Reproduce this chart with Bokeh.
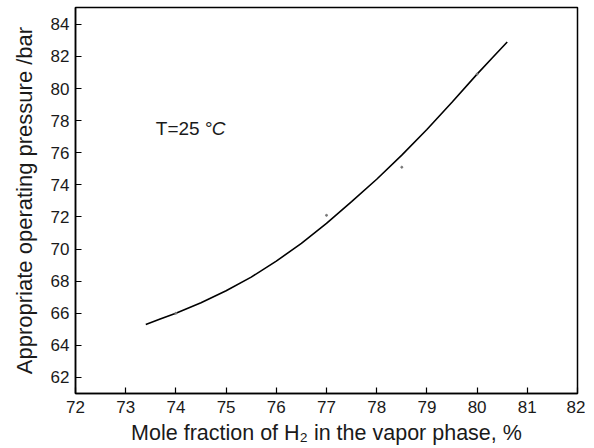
from bokeh.plotting import figure
from bokeh.models import Range1d, FixedTicker, Label
from bokeh.embed import file_html
from bokeh.resources import INLINE

# Data
curve_x = [73.4, 73.7, 74.0, 74.5, 75.0, 75.5, 76.0, 76.5, 77.0, 77.5, 78.0, 78.5, 79.0, 79.5, 80.0, 80.3, 80.6]
curve_y = [65.3, 65.65, 66.0, 66.65, 67.4, 68.25, 69.25, 70.35, 71.6, 72.95, 74.35, 75.85, 77.45, 79.15, 80.9, 81.9, 82.9]
dots_x = [74.0, 77.0, 78.5, 80.0]
dots_y = [66.0, 72.1, 75.1, 80.9]
x_ticks = [72, 73, 74, 75, 76, 77, 78, 79, 80, 81, 82]
y_ticks = [62, 64, 66, 68, 70, 72, 74, 76, 78, 80, 82, 84]

FONT = "Liberation Sans"
TXT = "#1a1a1a"

p = figure(width=585, height=448, output_backend="svg", toolbar_location=None,
           x_range=Range1d(72, 82), y_range=Range1d(61, 85.05))
p.min_border_left = 75
p.min_border_right = 8
p.min_border_top = 7
p.min_border_bottom = 55
p.background_fill_color = "white"
p.border_fill_color = "white"
p.outline_line_color = "black"
p.outline_line_width = 1.5
p.xgrid.visible = False
p.ygrid.visible = False

p.line(curve_x, curve_y, line_color="black", line_width=1.6)
p.scatter(dots_x, dots_y, size=2, color="#777777")

for ax, ticks in ((p.xaxis[0], x_ticks), (p.yaxis[0], y_ticks)):
    ax.ticker = FixedTicker(ticks=ticks)
    ax.major_tick_in = 6
    ax.major_tick_out = 0
    ax.minor_tick_line_color = None
    ax.axis_line_color = "black"
    ax.axis_line_width = 1.5
    ax.major_tick_line_color = "black"
    ax.major_tick_line_width = 1.2
    ax.major_label_text_font = FONT
    ax.major_label_text_font_size = "17px"
    ax.major_label_text_color = TXT
    ax.axis_label_text_font = FONT
    ax.axis_label_text_font_style = "normal"
    ax.axis_label_text_color = TXT

p.xaxis[0].axis_label = "Mole fraction of H\u2082 in the vapor phase, %"
p.xaxis[0].axis_label_text_font_size = "21.5px"
p.xaxis[0].major_label_standoff = 7
p.xaxis[0].axis_label_standoff = 5
p.yaxis[0].axis_label = "Appropriate operating pressure /bar"
p.yaxis[0].axis_label_text_font_size = "22px"
p.yaxis[0].major_label_standoff = 6
p.yaxis[0].axis_label_standoff = 11

p.add_layout(Label(x=73.6, y=77.5, text="T=25 \u00b0", text_font=FONT,
                   text_font_size="19px", text_color=TXT, text_baseline="alphabetic"))
p.add_layout(Label(x=73.6, y=77.5, x_offset=56, text="C", text_font=FONT,
                   text_font_size="19px", text_font_style="italic", text_color=TXT,
                   text_baseline="alphabetic"))

open("out.html", "w").write(file_html(p, INLINE))
